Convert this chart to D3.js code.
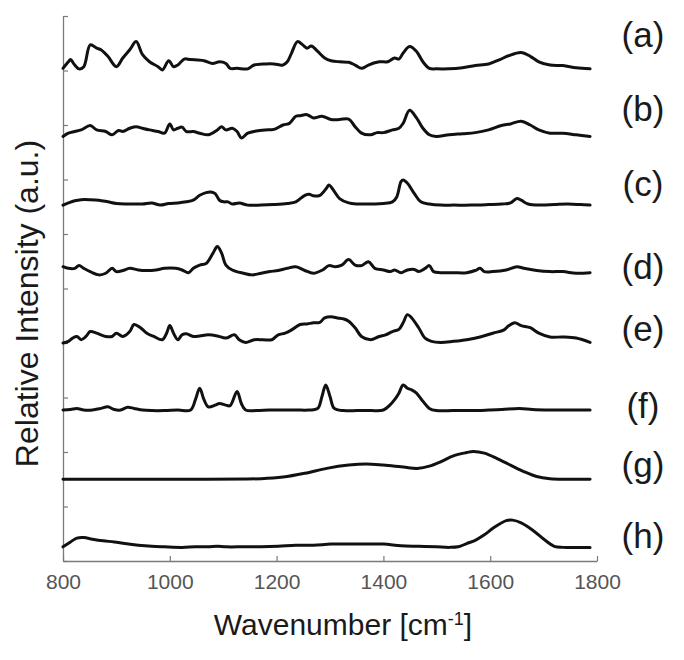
<!DOCTYPE html>
<html>
<head>
<meta charset="utf-8">
<script src="https://cdn.jsdelivr.net/npm/d3@7"></script>
<style>
  html, body { margin: 0; padding: 0; background: #fff; }
  svg { display: block; }
</style>
</head>
<body>
<svg id="chart" width="684" height="660"></svg>
<script>
// ---------------- DATA ----------------
const labels = ["(a)", "(b)", "(c)", "(d)", "(e)", "(f)", "(g)", "(h)"];
const offsets = [903, 779, 653, 525, 400, 276, 150, 25]; // vertical stacking offsets (a.u.)
const xTicks = [800, 1000, 1200, 1400, 1600, 1800];
const yTicks = [0, 100, 200, 300, 400, 500, 600, 700, 800, 900, 1000];

const specA = [[800,1],[810,13],[814,17],[822,7],[830,0],[839,4],[851,44],[863,38],[871,35],[884,23],[900,4],[912,20],[925,35],[937,50],[949,26],[962,13],[978,4],[986,-2],[998,15],[1007,4],[1015,7],[1027,18],[1039,17],[1064,15],[1080,10],[1093,13],[1105,10],[1113,1],[1126,1],[1146,0],[1158,7],[1179,9],[1195,9],[1212,7],[1220,13],[1228,29],[1239,50],[1249,44],[1257,38],[1265,42],[1277,32],[1290,20],[1302,15],[1318,13],[1335,12],[1347,7],[1359,1],[1372,7],[1392,13],[1408,13],[1421,20],[1429,18],[1437,29],[1449,41],[1462,32],[1474,13],[1486,1],[1499,0],[1523,0],[1548,2],[1572,6],[1597,9],[1618,17],[1634,24],[1658,30],[1675,23],[1691,13],[1712,7],[1736,6],[1761,2],[1787,0]];

const specB = [[800,0],[810,6],[822,9],[834,12],[851,20],[863,12],[880,9],[892,3],[904,11],[912,9],[925,15],[937,18],[949,15],[962,12],[978,9],[990,6],[1000,23],[1007,12],[1015,15],[1023,17],[1031,9],[1044,9],[1056,6],[1072,3],[1089,12],[1097,18],[1105,12],[1117,15],[1126,9],[1134,-3],[1146,6],[1162,10],[1179,12],[1195,13],[1212,21],[1224,24],[1236,37],[1244,38],[1257,40],[1269,34],[1285,37],[1302,31],[1318,31],[1335,32],[1347,18],[1359,6],[1376,3],[1388,7],[1400,7],[1417,12],[1429,15],[1437,24],[1449,48],[1462,34],[1474,15],[1486,3],[1499,0],[1523,3],[1548,5],[1572,7],[1597,12],[1621,20],[1638,23],[1658,28],[1675,21],[1691,12],[1712,6],[1736,6],[1761,3],[1787,0]];

const specC = [[800,0],[810,4],[822,8],[834,10],[851,10],[867,9],[884,6],[900,3],[917,2],[933,2],[949,2],[966,4],[982,0],[998,3],[1015,4],[1031,6],[1044,9],[1056,18],[1068,23],[1077,24],[1085,21],[1093,9],[1101,6],[1109,6],[1117,2],[1130,4],[1146,0],[1171,0],[1195,1],[1220,3],[1236,6],[1253,18],[1261,20],[1269,17],[1281,18],[1294,32],[1298,37],[1306,28],[1318,12],[1335,4],[1351,2],[1367,2],[1384,2],[1400,3],[1417,6],[1425,15],[1433,43],[1437,46],[1445,40],[1458,21],[1470,6],[1486,2],[1507,0],[1532,0],[1564,0],[1597,1],[1622,2],[1638,4],[1650,12],[1658,9],[1671,2],[1695,0],[1720,1],[1745,2],[1769,1],[1787,0]];

const specD = [[800,15],[810,12],[822,12],[830,17],[839,12],[851,6],[867,0],[880,3],[892,12],[900,6],[912,8],[925,12],[941,9],[957,8],[974,9],[990,12],[1011,12],[1023,9],[1035,4],[1044,12],[1056,18],[1068,21],[1081,40],[1089,52],[1097,40],[1105,18],[1117,9],[1138,3],[1154,0],[1171,3],[1187,6],[1203,8],[1220,12],[1236,15],[1253,8],[1269,3],[1286,9],[1298,17],[1310,15],[1322,18],[1335,28],[1347,18],[1359,17],[1372,24],[1384,12],[1400,9],[1413,6],[1421,9],[1433,4],[1445,9],[1458,10],[1466,6],[1478,12],[1486,17],[1494,6],[1507,4],[1531,4],[1556,4],[1572,8],[1581,12],[1589,6],[1605,6],[1630,9],[1650,15],[1663,12],[1687,8],[1712,6],[1736,6],[1761,3],[1787,4]];

const specE = [[800,0],[810,3],[818,9],[826,12],[834,6],[843,12],[851,21],[863,18],[880,12],[892,12],[900,18],[912,12],[925,21],[933,34],[945,28],[957,18],[970,12],[986,6],[994,18],[1000,32],[1007,18],[1015,6],[1023,15],[1031,17],[1044,12],[1056,13],[1072,15],[1089,13],[1105,9],[1121,15],[1130,6],[1142,1],[1158,6],[1175,6],[1191,6],[1203,15],[1216,18],[1228,24],[1244,34],[1257,35],[1269,37],[1281,38],[1290,46],[1302,48],[1314,46],[1326,44],[1335,40],[1347,28],[1359,12],[1376,6],[1392,12],[1404,15],[1417,21],[1429,25],[1437,37],[1445,52],[1453,46],[1466,28],[1478,9],[1490,3],[1507,1],[1531,3],[1556,6],[1581,11],[1605,18],[1626,24],[1634,31],[1646,37],[1658,32],[1675,28],[1691,18],[1712,11],[1736,11],[1761,9],[1787,1]];

const specF = [[800,1],[814,2],[826,4],[839,1],[855,1],[871,4],[884,7],[896,2],[908,1],[921,6],[933,4],[949,1],[966,0],[990,0],[1015,1],[1039,1],[1048,20],[1056,41],[1064,20],[1072,7],[1085,10],[1093,13],[1105,10],[1113,9],[1126,35],[1134,13],[1142,1],[1162,0],[1187,1],[1212,1],[1236,1],[1261,1],[1277,4],[1285,26],[1292,47],[1300,26],[1308,4],[1326,0],[1351,0],[1376,0],[1400,1],[1412,10],[1421,20],[1429,32],[1437,47],[1445,41],[1453,38],[1462,32],[1474,17],[1486,4],[1499,0],[1531,0],[1564,0],[1597,1],[1622,2],[1655,4],[1679,2],[1712,1],[1745,1],[1787,1]];

const specG = [[800,0],[1007,0],[1171,1],[1212,4],[1253,11],[1294,20],[1335,26],[1368,28],[1400,26],[1433,23],[1466,20],[1486,24],[1507,32],[1531,43],[1556,49],[1568,51],[1589,48],[1613,38],[1638,26],[1663,14],[1687,5],[1712,1],[1745,0],[1787,0]];

const specH = [[800,1],[814,10],[826,17],[839,18],[855,15],[875,12],[896,10],[916,7],[941,4],[966,2],[990,1],[1023,0],[1048,1],[1072,1],[1089,2],[1105,1],[1138,1],[1171,1],[1203,2],[1236,4],[1269,4],[1302,6],[1335,6],[1367,6],[1400,6],[1433,3],[1466,2],[1499,1],[1523,0],[1540,1],[1556,7],[1572,13],[1589,23],[1605,35],[1630,49],[1642,50],[1658,45],[1679,32],[1703,13],[1720,2],[1736,0],[1761,0],[1787,0]];

const spectra = [specA, specB, specC, specD, specE, specF, specG, specH];

// ---------------- LAYOUT ----------------
const svg = d3.select("#chart");
const mLeft = 63, mRight = 597, mTop = 16, mBottom = 561;
const labelNudge = [-34, -28, -21, -8, -14, -5, -15, -12];

const x = d3.scaleLinear().domain([800, 1800]).range([mLeft, mRight]);
const y = d3.scaleLinear().domain([0, 1000]).range([mBottom, mTop]);

const axisColor = "#7a7a7a";
const font = "'Liberation Sans', Arial, sans-serif";

// x axis (ticks pointing inward/up)
const gx = svg.append("g").attr("transform", `translate(0,${mBottom})`)
  .call(d3.axisBottom(x).tickValues(xTicks).tickSizeInner(-5).tickSizeOuter(0).tickPadding(13).tickFormat(d3.format("d")));
gx.select(".domain").attr("stroke", axisColor).attr("stroke-width", 1.3);
gx.selectAll(".tick line").attr("stroke", axisColor).attr("stroke-width", 1.2);
gx.selectAll(".tick text").attr("fill", "#555").attr("font-size", 21).attr("font-family", font);

// y axis (ticks pointing inward/right, no labels)
const gy = svg.append("g").attr("transform", `translate(${mLeft},0)`)
  .call(d3.axisLeft(y).tickValues(yTicks).tickSizeInner(-5).tickSizeOuter(0).tickFormat(""));
gy.select(".domain").attr("stroke", axisColor).attr("stroke-width", 1.3);
gy.selectAll(".tick line").attr("stroke", axisColor).attr("stroke-width", 1.2);

// spectra
const line = d3.line().curve(d3.curveCatmullRom.alpha(0.5));
spectra.forEach((s, i) => {
  line.x(d => x(d[0])).y(d => y(d[1] + offsets[i]));
  svg.append("path").datum(s).attr("d", line)
    .attr("fill", "none").attr("stroke", "#111").attr("stroke-width", 3)
    .attr("stroke-linejoin", "round").attr("stroke-linecap", "round");
});

// series labels
svg.append("g").selectAll("text").data(labels).join("text")
  .attr("x", 643)
  .attr("y", (d, i) => y(offsets[i]) + labelNudge[i])
  .attr("dy", "0.35em")
  .attr("text-anchor", "middle")
  .attr("font-family", font)
  .attr("font-size", 35)
  .attr("fill", "#1a1a1a")
  .text(d => d);

// axis titles
const xt = svg.append("text")
  .attr("x", (mLeft + mRight) / 2 + 13).attr("y", 635)
  .attr("text-anchor", "middle")
  .attr("font-family", font)
  .attr("font-size", 30).attr("fill", "#1a1a1a");
xt.append("tspan").text("Wavenumber [cm");
xt.append("tspan").attr("baseline-shift", "super").attr("font-size", 18).text("-1");
xt.append("tspan").text("]");

svg.append("text")
  .attr("transform", `translate(38,${(mTop + mBottom) / 2 + 15}) rotate(-90)`)
  .attr("text-anchor", "middle")
  .attr("font-family", font)
  .attr("font-size", 32).attr("fill", "#1a1a1a")
  .text("Relative Intensity (a.u.)");
</script>
</body>
</html>
